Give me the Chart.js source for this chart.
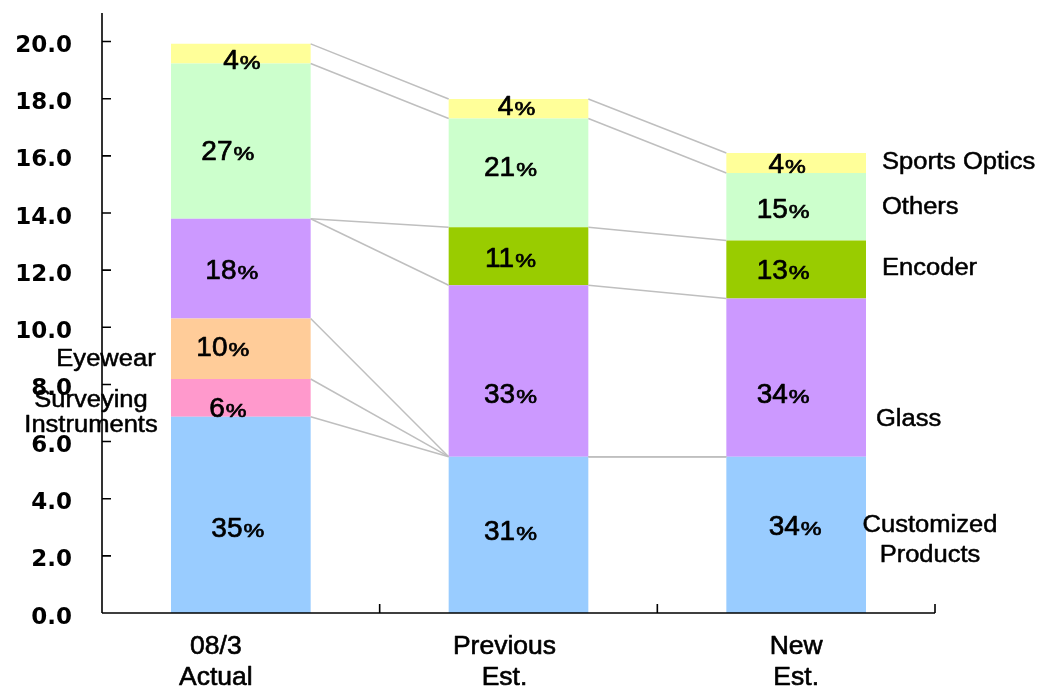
<!DOCTYPE html>
<html><head><meta charset="utf-8">
<script src="https://cdn.jsdelivr.net/npm/chart.js@4.4.1/dist/chart.umd.min.js"></script>
<style>html,body{margin:0;padding:0;background:#fff;overflow:hidden}canvas{display:block}</style>
</head><body>
<canvas id="c" width="1045" height="688"></canvas>
<script>
// ---- data ----
const categories = [["08/3", "Actual"], ["Previous", "Est."], ["New", "Est."]];
const segmentNames = ["Customized Products", "Surveying Instruments", "Eyewear", "Glass", "Encoder", "Others", "Sports Optics"];
const customized = [6.87, 5.47, 5.47];
const surveying  = [1.32, 0, 0];
const eyewear    = [2.12, 0, 0];
const glass      = [3.49, 6.00, 5.54];
const encoder    = [0, 2.03, 2.03];
const others     = [5.43, 3.81, 2.36];
const sports     = [0.69, 0.68, 0.70];
const pctCustomized = [35, 31, 34];
const pctSurveying  = [6, null, null];
const pctEyewear    = [10, null, null];
const pctGlass      = [18, 33, 34];
const pctEncoder    = [null, 11, 13];
const pctOthers     = [27, 21, 15];
const pctSports     = [4, 4, 4];
const yTicks = [0, 2, 4, 6, 8, 10, 12, 14, 16, 18, 20];

// ---- style / layout ----
const colors = ["#99CCFF", "#FF99CC", "#FFCC99", "#CC99FF", "#99CC00", "#CCFFCC", "#FFFF99"];
const seriesValues = [customized, surveying, eyewear, glass, encoder, others, sports];
const seriesPct = [pctCustomized, pctSurveying, pctEyewear, pctGlass, pctEncoder, pctOthers, pctSports];
// label offset [dx, dy] from bar centre / segment middle
const labelShift = [
  [[-3, 12], [-8, -5], [-1, -10]],
  [[-13, 9], [0, 0], [0, 0]],
  [[-18, -3], [0, 0], [0, 0]],
  [[-9, 0], [-8, 22], [-13, 15]],
  [[0, 0], [-8, 1], [-13, 0]],
  [[-13, 9], [-8, -7], [-13, 1]],
  [[1, 5], [-2, -4], [-9, 0]]
];
const catLabelShift = [-25, -14, 0];
const sideLabels = [
  {text: "Sports Optics", side: "right", dx: 16, v: 15.82, align: "left"},
  {text: "Others", side: "right", dx: 16, v: 14.25, align: "left"},
  {text: "Encoder", side: "right", dx: 16, v: 12.11, align: "left"},
  {text: "Glass", side: "right", dx: 10, v: 6.83, align: "left"},
  {text: "Customized", side: "right", dx: 64, v: 3.12, align: "center"},
  {text: "Products", side: "right", dx: 64, v: 2.07, align: "center"},
  {text: "Eyewear", side: "left", dx: 4, v: 8.93, align: "center"},
  {text: "Surveying", side: "left", dx: -11, v: 7.49, align: "center"},
  {text: "Instruments", side: "left", dx: -11, v: 6.62, align: "center"}
];

function sText(ctx, text, x, y, font, sx, align, stroke) {
  ctx.save();
  ctx.font = font;
  const w = ctx.measureText(text).width * sx;
  let x0 = x;
  if (align === "center") x0 = x - w / 2;
  else if (align === "right") x0 = x - w;
  ctx.translate(x0, y);
  ctx.scale(sx, 1);
  ctx.textAlign = "left";
  ctx.textBaseline = "alphabetic";
  ctx.fillStyle = "#000";
  ctx.fillText(text, 0, 0);
  if (stroke) {
    ctx.strokeStyle = "#000";
    ctx.lineWidth = stroke;
    ctx.lineJoin = "round";
    ctx.strokeText(text, 0, 0);
  }
  ctx.restore();
}

const drawPlugin = {
  id: "drawExtras",
  afterDatasetsDraw(chart) {
    const ctx = chart.ctx;
    const ca = chart.chartArea;
    const ys = chart.scales.y, xs = chart.scales.x;
    // connectors
    ctx.save();
    ctx.strokeStyle = "#BFBFBF";
    ctx.lineWidth = 1.5;
    for (let k = 0; k < seriesValues.length; k++) {
      const meta = chart.getDatasetMeta(k);
      for (let i = 0; i < meta.data.length - 1; i++) {
        const a = meta.data[i], b = meta.data[i + 1];
        ctx.beginPath();
        ctx.moveTo(a.x + a.width / 2, a.y);
        ctx.lineTo(b.x - b.width / 2, b.y);
        ctx.stroke();
      }
    }
    ctx.restore();
    // axes
    ctx.save();
    ctx.strokeStyle = "#000";
    ctx.lineWidth = 1.6;
    ctx.beginPath();
    ctx.moveTo(ca.left, ca.top);
    ctx.lineTo(ca.left, ca.bottom);
    ctx.moveTo(ca.left, ca.bottom);
    ctx.lineTo(ca.right, ca.bottom);
    yTicks.forEach(v => {
      const p = ys.getPixelForValue(v);
      ctx.moveTo(ca.left, p);
      ctx.lineTo(ca.left + 9, p);
    });
    const cw = (ca.right - ca.left) / categories.length;
    for (let i = 0; i <= categories.length; i++) {
      const px = ca.left + i * cw;
      ctx.moveTo(px, ca.bottom);
      ctx.lineTo(px, ca.bottom - 9);
    }
    ctx.stroke();
    ctx.restore();
    // y tick labels
    yTicks.forEach(v => {
      const p = ys.getPixelForValue(v);
      sText(ctx, v.toFixed(1), ca.left - 30, p + 10.5, "bold 23px 'DejaVu Sans'", 1, "right");
    });
    // category labels
    categories.forEach((lines, i) => {
      const px = xs.getPixelForValue(i) + catLabelShift[i];
      lines.forEach((t, j) => {
        sText(ctx, t, px, ca.bottom + 41 + j * 31, "25px 'Liberation Sans'", 1.06, "center", 0.6);
      });
    });
    // percent labels
    for (let k = 0; k < seriesValues.length; k++) {
      const meta = chart.getDatasetMeta(k);
      meta.data.forEach((el, i) => {
        const pct = seriesPct[k][i];
        if (pct === null || pct === undefined) return;
        const sh = labelShift[k][i];
        const cx = el.x + sh[0];
        const cy = (el.y + el.base) / 2 + sh[1];
        const num = String(pct);
        ctx.save();
        ctx.font = "28px 'Liberation Sans'";
        const w1 = ctx.measureText(num).width;
        ctx.font = "18px 'Liberation Sans'";
        const w2 = ctx.measureText("%").width * 1.3;
        ctx.restore();
        const start = cx - (w1 + w2 + 1) / 2;
        const base = cy + 10;
        sText(ctx, num, start, base, "28px 'Liberation Sans'", 1, "left", 0.7);
        sText(ctx, "%", start + w1 + 1, base, "18px 'Liberation Sans'", 1.3, "left", 0.6);
      });
    }
    // side labels
    const lastMeta = chart.getDatasetMeta(0);
    const lastBar = lastMeta.data[lastMeta.data.length - 1];
    const rightEdge = lastBar.x + lastBar.width / 2;
    sideLabels.forEach(l => {
      const x = l.side === "right" ? rightEdge + l.dx : ca.left + l.dx;
      const y = ys.getPixelForValue(l.v) + 8.2;
      sText(ctx, l.text, x, y, "23px 'Liberation Sans'", 1.11, l.align, 0.5);
    });
  }
};

new Chart(document.getElementById("c"), {
  type: "bar",
  data: {
    labels: categories,
    datasets: seriesValues.map((vals, k) => ({
      label: segmentNames[k],
      data: vals,
      backgroundColor: colors[k],
      borderWidth: 0,
      barPercentage: 1,
      categoryPercentage: 0.503,
      stack: "s"
    }))
  },
  options: {
    responsive: false,
    animation: false,
    layout: {padding: {top: 13, right: 110, left: 0, bottom: 0}},
    plugins: {legend: {display: false}, tooltip: {enabled: false}},
    scales: {
      x: {
        stacked: true,
        grid: {display: false},
        border: {display: false},
        ticks: {display: false},
        afterFit(s) { s.height = 75; }
      },
      y: {
        stacked: true,
        min: 0,
        max: 21,
        grid: {display: false},
        border: {display: false},
        ticks: {display: false, stepSize: 2},
        afterFit(s) { s.width = 102; }
      }
    }
  },
  plugins: [drawPlugin]
});
</script>
</body></html>
